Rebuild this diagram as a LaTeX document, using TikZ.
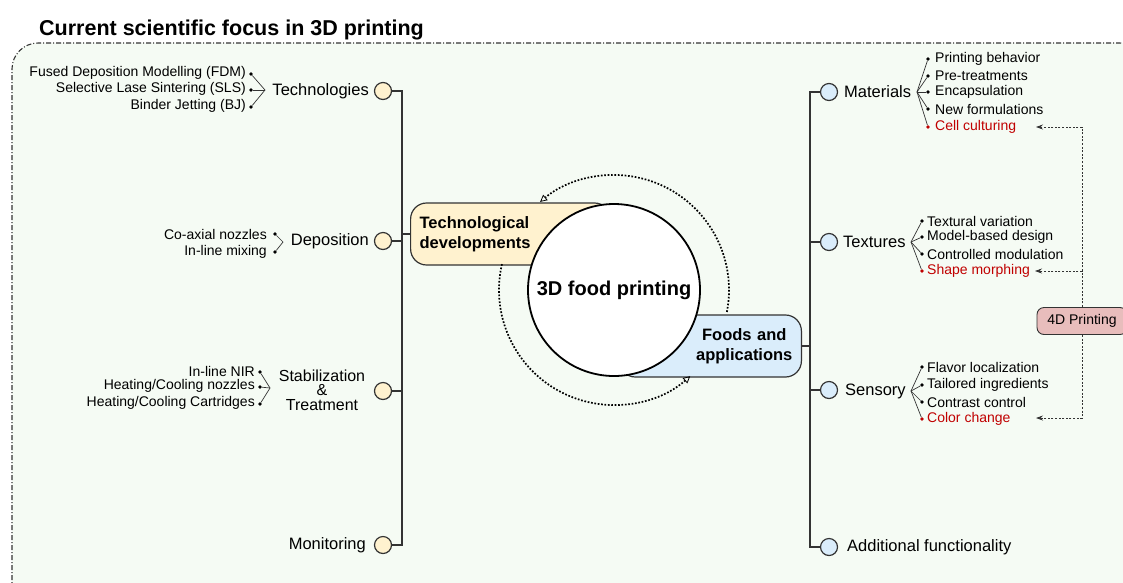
\documentclass[tikz,border=0pt]{standalone}
\usepackage{fontspec}
\setmainfont{Liberation Sans}
\usetikzlibrary{arrows.meta}
\definecolor{framefill}{HTML}{F5FBF4}
\definecolor{ylw}{HTML}{FFF2CF}
\definecolor{blu}{HTML}{DAEDFB}
\definecolor{pnk}{HTML}{E8BDBC}
\definecolor{redt}{HTML}{C00000}
\definecolor{linec}{HTML}{333333}
\newcommand\HCool{Heating/Cooling}
\tikzset{
  lbl/.style={font=\fontsize{16.5}{18}\selectfont, inner sep=0pt},
  sub/.style={font=\fontsize{14}{16}\selectfont, inner sep=0pt},
  dotnode/.style={circle, inner sep=0pt, minimum size=3.6pt, fill=black},
  fan/.style={draw=linec, line width=0.7pt},
  ycirc/.style={circle, draw=linec, line width=1.2pt, fill=ylw, minimum size=17pt, inner sep=0pt},
  bcirc/.style={circle, draw=linec, line width=1.2pt, fill=blu, minimum size=17pt, inner sep=0pt},
  spine/.style={draw=linec, line width=1.4pt},
  bigbox/.style={draw=linec, line width=1.2pt, rounded corners=16pt, minimum height=62pt,
     font=\bfseries\fontsize{16.5}{20}\selectfont, inner xsep=9pt, inner ysep=0pt},
  dotarc/.style={draw=black, line width=1.7pt, dash pattern=on 1.7pt off 1.7pt,
     -{Triangle[open, length=7pt, width=7pt, line width=0.8pt]}},
  dasharrow/.style={draw=linec, line width=0.8pt, dash pattern=on 2pt off 1.6pt,
     -{Stealth[length=7pt, width=5pt]}},
}
\begin{document}
\begin{tikzpicture}[x=1pt, y=-1pt]
\useasboundingbox (0,0) rectangle (1123,582);
\fill[white] (0,0) rectangle (1123,582);
\clip (0,0) rectangle (1123,582);

% frame
\draw[draw=linec, line width=1.1pt, fill=framefill, rounded corners=26pt,
      dash pattern=on 5pt off 2pt on 1pt off 2pt]
  (12,640) -- (12,43) -- (1146,43) -- (1146,640);

% title
\node[anchor=base west, inner sep=0pt, font=\bfseries\fontsize{21.5}{24}\selectfont]
  (title) at (39,35) {Current scientific focus in 3D printing};

% boxes
\node[bigbox, fill=ylw, anchor=west, text width=182pt, align=left]
  (tech) at (410,234) {Technological\\developments};
\node[bigbox, fill=blu, anchor=east, text width=164pt, align=right]
  (foods) at (802,346) {\begin{tabular}{@{}c@{}}Foods and\\applications\end{tabular}};

% dotted cycle arcs
\coordinate (cc) at (614,290);
\draw[dotarc] ([shift={(-11:115pt)}]cc) arc[start angle=-11, end angle=130, radius=115pt];
\draw[dotarc] ([shift={(167:115pt)}]cc) arc[start angle=167, end angle=311.5, radius=115pt];

% core
\node[circle, draw=black, line width=1.8pt, fill=white, minimum size=172pt, inner sep=0pt,
      font=\bfseries\fontsize{20}{22}\selectfont] (core) at (cc) {3D food printing};

% ---------- left side ----------
\node[ycirc] (c1) at (383,91) {};
\node[ycirc] (c2) at (383,241) {};
\node[ycirc] (c3) at (383,391) {};
\node[ycirc] (c4) at (383,545) {};
\coordinate (ls1) at (402,91);
\coordinate (ls4) at (402,545);
\draw[spine] (c1.east) -- (ls1) -- (ls4) -- (c4.east);
\draw[spine] (c2.east) -- (c2.east -| ls1);
\draw[spine] (c3.east) -- (c3.east -| ls1);
\draw[spine] (tech.west -| ls1) -- (tech.west);

\node[lbl, anchor=east] (ltech) at (369,91) {Technologies};
\node[lbl, anchor=east] (ldep) at (369,241) {Deposition};
\node[lbl, align=center, font=\fontsize{16}{14.5}\selectfont] (lstab) at (322,390) {Stabilization\\\&\\Treatment};
\node[lbl, anchor=east] (lmon) at (366,545) {Monitoring};

% technologies fan
\coordinate (tf) at (265,90);
\foreach \i/\y/\t in {1/74/Fused Deposition Modelling (FDM), 2/90/Selective Lase Sintering (SLS), 3/107/Binder Jetting (BJ)}{
  \node[dotnode] (td\i) at (251,\y) {};
  \node[sub, anchor=east] (tt\i) at (246,\y-1) {\t};
  \draw[fan] (tf) -- (td\i);
}
% deposition fan
\coordinate (df) at (283,242);
\foreach \i/\y/\t in {1/234/Co-axial nozzles, 2/252/In-line mixing}{
  \node[dotnode] (dd\i) at (275,\y) {};
  \node[sub, anchor=east] (dt\i) at (267,\y) {\t};
  \draw[fan] (df) -- (dd\i);
}
% stabilization fan
\coordinate (sf) at (270,388);
\foreach \i/\y/\t in {1/372/In-line NIR, 2/387/\HCool{} nozzles, 3/404/\HCool{} Cartridges}{
  \node[dotnode] (sd\i) at (260,\y) {};
  \node[sub, anchor=east] (st\i) at (255,\y-1) {\t};
  \draw[fan] (sf) -- (sd\i);
}

% ---------- right side ----------
\node[bcirc] (r1) at (829,92) {};
\node[bcirc] (r2) at (829,242) {};
\node[bcirc] (r3) at (829,390) {};
\node[bcirc] (r4) at (829,547) {};
\coordinate (rs1) at (810,92);
\coordinate (rs4) at (810,547);
\draw[spine] (r1.west) -- (rs1) -- (rs4) -- (r4.west);
\draw[spine] (r2.west) -- (r2.west -| rs1);
\draw[spine] (r3.west) -- (r3.west -| rs1);
\draw[spine] (foods.east) -- (foods.east -| rs1);

\node[lbl, anchor=west] (lmat) at (844,92) {Materials};
\node[lbl, anchor=west] (ltex) at (843,242) {Textures};
\node[lbl, anchor=west] (lsen) at (845,391) {Sensory};
\node[lbl, anchor=west] (ladd) at (847,547) {Additional functionality};

% materials fan
\coordinate (mf) at (917,92);
\foreach \i/\y/\t/\c in {1/59/Printing behavior/black, 2/76/Pre-treatments/black, 3/92/Encapsulation/black, 4/109/New formulations/black, 5/127/Cell culturing/redt}{
  \node[dotnode, fill=\c] (md\i) at (928,\y) {};
  \draw[fan] (mf) -- (md\i);
  \node[sub, anchor=west, text=\c] (mt\i) at (935,\y) {\t};
}
% textures fan
\coordinate (xf) at (911,242);
\foreach \i/\y/\t/\c in {1/221/Textural variation/black, 2/237/Model-based design/black, 3/254/Controlled modulation/black, 4/271/Shape morphing/redt}{
  \node[dotnode, fill=\c] (xd\i) at (922,\y) {};
  \draw[fan] (xf) -- (xd\i);
  \node[sub, anchor=west, text=\c] (xt\i) at (927,\y) {\t};
}
% sensory fan
\coordinate (nf) at (911,391);
\foreach \i/\y/\t/\c in {1/367/Flavor localization/black, 2/385/Tailored ingredients/black, 3/402/Contrast control/black, 4/419/Color change/redt}{
  \node[dotnode, fill=\c] (nd\i) at (922,\y) {};
  \draw[fan] (nf) -- (nd\i);
  \node[sub, anchor=west, text=\c] (nt\i) at (927,\y) {\t};
}

% 4D printing
\coordinate (tipA) at (1036,127);
\coordinate (tipB) at (1035,271);
\coordinate (tipC) at (1036,418);
\node[draw=linec, line width=0.9pt, fill=pnk, rounded corners=7pt, minimum width=90pt,
      minimum height=27pt, inner sep=0pt, font=\fontsize{14}{16}\selectfont]
  (p4d) at (1082,321) {4D Printing};
\draw[dasharrow] (p4d.north) |- (tipA);
\draw[dasharrow] (p4d.north) |- (tipB);
\draw[dasharrow] (p4d.south) |- (tipC);
\end{tikzpicture}
\end{document}
